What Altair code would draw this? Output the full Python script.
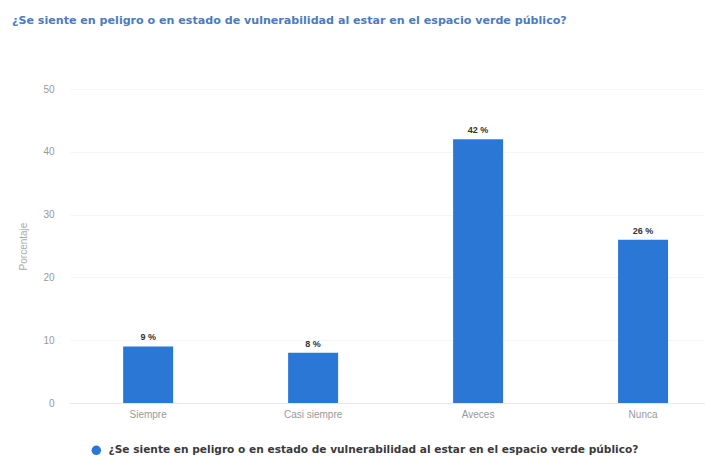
import altair as alt
import pandas as pd

categories = ["Siempre", "Casi siempre", "Aveces", "Nunca"]
values = [9, 8, 42, 26]
series_name = "¿Se siente en peligro o en estado de vulnerabilidad al estar en el espacio verde público?"
y_ticks = [0, 10, 20, 30, 40, 50]

df = pd.DataFrame({"cat": categories, "val": values, "serie": [series_name] * len(categories)})
df["label"] = df["val"].astype(str) + " %"

FONT = "Liberation Sans"
WIDE = "DejaVu Sans"
BLUE = "#2a77d6"

base = alt.Chart(df)

bars = base.mark_bar(color=BLUE).encode(
    x=alt.X("cat:N", sort=categories, title=None,
            scale=alt.Scale(paddingInner=0.697, paddingOuter=0.273, align=0.59),
            axis=alt.Axis(labelAngle=0, labelColor="#999999", labelFontSize=10,
                          labelPadding=6, ticks=False, domainColor="#e6e6e6",
                          labelFont=FONT)),
    y=alt.Y("val:Q", title="Porcentaje",
            scale=alt.Scale(domain=[0, 50]),
            axis=alt.Axis(values=y_ticks, labelColor="#9a9a9a", labelFontSize=10,
                          titleColor="#aaaaaa", titleFontSize=10, titleFontWeight="normal",
                          titlePadding=14, labelPadding=16, ticks=False, domain=False,
                          gridColor="#f5f5f5", labelFont=FONT, titleFont=FONT)),
    fill=alt.Fill("serie:N", scale=alt.Scale(range=[BLUE]),
                  legend=alt.Legend(title=None, orient="none", legendX=21, legendY=356,
                                    symbolType="circle", symbolSize=90,
                                    labelFontSize=10.6, labelColor="#3a3a3a",
                                    labelFontWeight="bold", labelFont=WIDE,
                                    labelLimit=700, symbolStrokeWidth=0, labelOffset=7)),
)

texts = base.mark_text(dy=-9, fontSize=9, fontWeight="bold", color="#333333", font=FONT).encode(
    x=alt.X("cat:N", sort=categories),
    y=alt.Y("val:Q"),
    text="label:N",
)

chart = (bars + texts).properties(
    width=635, height=314,
    autosize=alt.AutoSizeParams(type="none"),
    padding={"left": 62, "top": 81, "right": 0, "bottom": 60},
    title=alt.TitleParams(series_name, anchor="start", frame="group", dx=-58, offset=58,
                          fontSize=11.1, fontWeight="bold", color="#4a7cc0", font=WIDE),
).configure_view(stroke=None).configure_axis(labelFont=FONT)

chart.save("out.html", embed_options={"renderer": "svg", "actions": False})
